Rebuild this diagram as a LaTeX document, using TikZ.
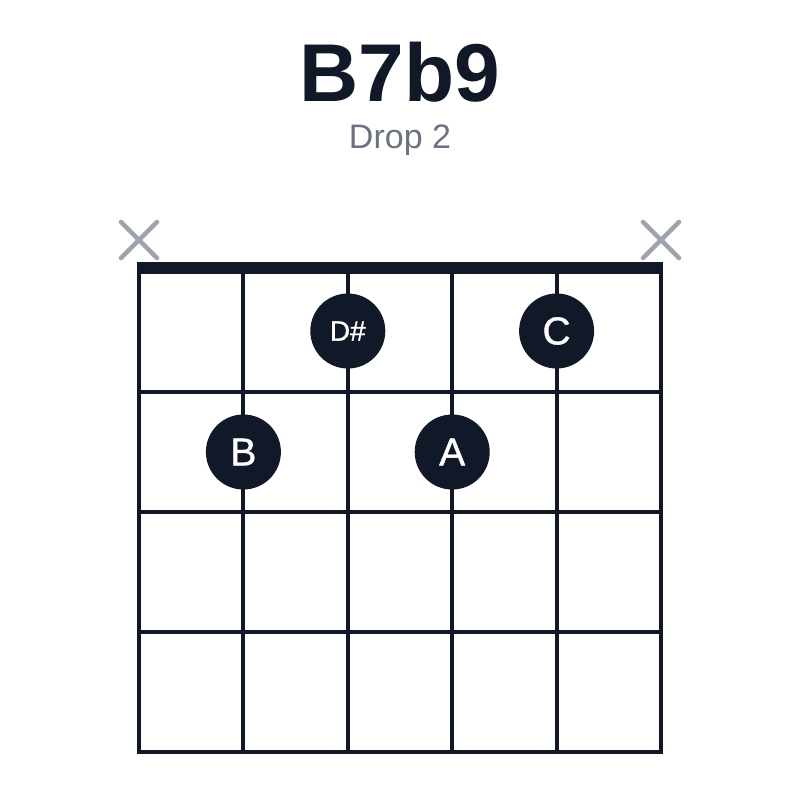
\documentclass[tikz,border=0pt]{standalone}
\usepackage{fontspec}
\setmainfont{Liberation Sans}
\newfontfamily\dotfont{Liberation Sans}[FakeBold=1]
\definecolor{ink}{HTML}{111827}
\definecolor{mute}{HTML}{9CA3AF}
\definecolor{subtle}{HTML}{6B7280}
\begin{document}
\begin{tikzpicture}[x=1pt,y=-1pt,
    finger/.style={circle,fill=ink,text=white,minimum size=75pt,inner sep=0pt,font=\dotfont\fontsize{39}{39}\selectfont},
    muted/.style={mute,line width=4.5pt,line cap=round}]
        \useasboundingbox[fill=white] (0,0) rectangle (800,800);
        \node[anchor=base,text=ink,font=\bfseries\fontsize{82}{82}\selectfont] (title) at (400,101) {B7b9};
        \node[anchor=base,text=subtle,font=\fontsize{34}{34}\selectfont] (voicing) at (400,148) {Drop 2};

        \foreach \i in {0,...,5}
            \draw[ink,line width=4pt] (139+\i*104.4,268) -- (139+\i*104.4,752);
        \foreach \y in {392,512,632,752}
            \draw[ink,line width=4pt] (137,\y) -- (663,\y);
        \draw[ink,line width=12pt] (137,268) -- (663,268);

        \foreach \x in {139,661}
            \draw[muted] (\x-18,222) -- (\x+18,258) (\x-18,258) -- (\x+18,222);

        \node[finger,font=\dotfont\fontsize{28}{28}\selectfont] (dsharp) at (347.8,331) {D\#};
        \node[finger] (c) at (556.6,331) {C};
        \node[finger] (b) at (243.4,452) {B};
        \node[finger] (a) at (452.2,452) {A};
    \end{tikzpicture}
\end{document}
